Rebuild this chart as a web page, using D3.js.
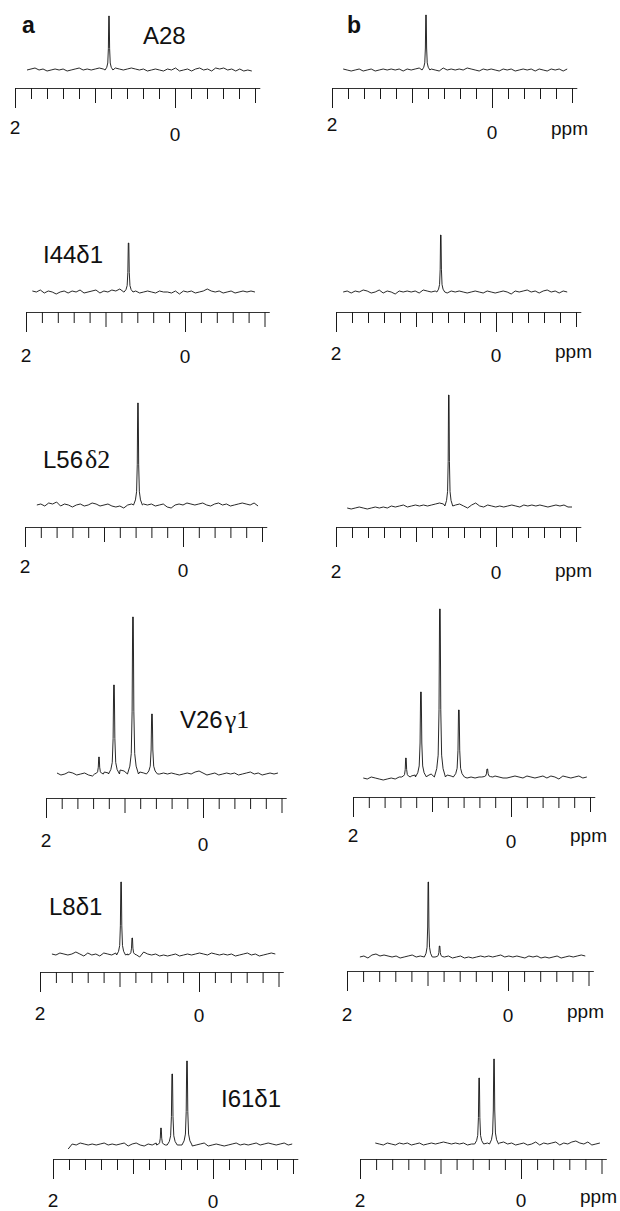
<!DOCTYPE html>
<html>
<head>
<meta charset="utf-8">
<script src="https://cdn.jsdelivr.net/npm/d3@7"></script>
<style>
  body { margin: 0; background: #fff; }
  text { font-family: "Liberation Sans", Arial, sans-serif; fill: #111; }
</style>
</head>
<body>
<script>
// ---- data ----
const columnLabels = ["a", "b"];
const residueNames = ["A28", "I44δ1", "L56δ2", "V26γ1", "L8δ1", "I61δ1"];
const tickLabels = [{ ppm: 2, text: "2" }, { ppm: 0, text: "0" }];
const unitLabel = "ppm";

// ppm range covered by each trace [start, end], order: a1,b1,a2,b2,...
const traceRanges = [
  [1.85, -0.96], [1.86, -0.94],
  [1.92, -0.88], [1.91, -0.89],
  [1.85, -0.95], [1.86, -0.95],
  [1.86, -0.955], [1.87, -0.96],
  [1.85, -0.96], [1.84, -0.96],
  [1.81, -0.99], [1.81, -0.98]
];

// peaks: [ppm, height, width factor]
const peaksA28a = [[0.825, 54, 0.7]];
const peaksA28b = [[0.825, 55, 0.7]];
const peaksI44a = [[0.71, 49, 0.8]];
const peaksI44b = [[0.69, 57, 0.7]];
const peaksL56a = [[0.57, 102, 0.8]];
const peaksL56b = [[0.59, 111, 0.7]];
const peaksV26a = [[1.325, 17, 0.8], [1.134, 89, 1], [0.892, 157, 1], [0.65, 60, 1]];
const peaksV26b = [[1.33, 19, 0.8], [1.14, 85, 1], [0.90, 168, 1], [0.66, 67, 1], [0.30, 8, 1]];
const peaksL8a = [[0.98, 73, 0.8], [0.84, 17, 0.8]];
const peaksL8b = [[0.99, 75, 0.7], [0.85, 11, 0.8]];
const peaksI61a = [[0.65, 17, 0.8], [0.51, 71, 0.9], [0.325, 84, 0.9]];
const peaksI61b = [[0.52, 66, 0.8], [0.335, 85, 0.8]];

// tabulated line shape of one peak: [ppm offset, fraction of height]
const lineShape = [[0.07, 0], [0.04, 0.05], [0.022, 0.13], [0.011, 0.4], [0.004, 1],
                   [-0.004, 1], [-0.011, 0.4], [-0.022, 0.13], [-0.04, 0.05], [-0.07, 0]];

// baseline noise, evenly spaced over the trace range
const noiseA28a = [0,1,2,0,1,-1,0,1,0,1,-1,0,1,2,0,1,0,1,2,1,0,1,2,1,0,1,2,1,0,1,-1,0,1,0,-1,1,0,2,-1,0,1,-1,1,2,0,1,-1,2,1,2,0,1,-1,1,-1,0,-1];
const noiseA28b = [1,0,-1,0,1,-1,0,1,-1,0,1,0,1,0,1,-1,1,0,1,2,1,0,1,0,-1,2,0,1,0,1,0,2,1,0,-1,1,0,1,0,-1,1,0,1,-1,0,1,0,1,-1,1,0,-1,1,0,1,-1,1];
const noiseI44a = [1,0,2,-1,1,0,-2,0,1,-1,1,0,2,-1,0,1,2,-1,1,0,2,1,3,0,1,0,1,-1,0,1,0,-1,1,0,0,-1,1,-2,1,0,1,-1,0,1,3,1,0,1,-1,0,1,-1,0,1,0,1,0];
const noiseI44b = [0,1,-1,1,0,2,1,-1,0,2,-1,1,0,-2,1,0,1,0,1,-1,2,1,0,1,0,1,-1,1,0,1,0,-1,0,1,0,-1,1,0,-1,0,1,0,-2,1,0,1,2,0,1,-1,1,2,0,1,-1,1,0];
const noiseL56a = [0,1,-1,2,1,3,-1,1,0,-2,0,1,-1,0,2,1,-1,0,1,-1,-2,-1,-3,0,1,2,0,1,0,1,-1,0,1,-2,-3,0,1,0,2,1,0,1,2,0,-1,1,2,0,1,-1,0,1,2,1,0,2,-1];
const noiseL56b = [-2,-3,-2,-1,-2,-3,-2,-1,-2,-1,-2,0,-1,0,1,-1,0,1,0,1,0,1,2,3,2,1,0,1,2,0,-2,1,3,0,-1,1,0,-1,0,-1,0,1,0,-1,1,0,1,0,1,0,-1,0,1,0,1,-1,-1];
const noiseV26a = [1,-1,0,2,1,-1,0,1,-1,-2,0,1,2,1,0,1,4,3,1,0,1,2,1,0,1,-1,0,1,0,1,0,-1,0,1,0,2,3,1,-1,0,1,-1,0,1,0,1,-1,0,1,2,0,1,-1,0,1,0,1];
const noiseV26b = [-1,-2,0,-1,-2,-3,-2,-1,-2,0,-1,0,1,2,1,0,1,3,2,1,0,2,1,0,1,0,-1,0,-1,0,1,0,-1,1,0,-1,-1,0,1,0,-1,1,0,-1,0,1,-1,1,0,-2,1,0,-1,0,1,-1,0];
const noiseL8a = [1,0,2,1,0,1,3,1,-1,2,0,1,-1,2,1,0,2,1,0,1,2,0,-2,3,1,0,1,-1,0,-1,0,1,-1,0,1,0,1,2,1,0,2,1,0,1,0,1,-1,0,1,2,0,1,-1,0,1,2,1];
const noiseL8b = [0,1,-1,2,3,1,2,1,0,1,-1,0,1,2,0,1,0,2,0,2,1,0,1,-1,0,1,-1,0,-1,0,1,0,1,0,1,2,0,1,0,1,0,-1,1,0,1,-1,0,-1,0,1,-1,0,1,0,1,2,1];
const noiseI61a = [-4,1,0,2,1,0,1,0,1,2,0,1,0,1,2,-1,1,2,0,-1,1,0,2,3,1,0,2,1,0,1,0,-1,0,1,2,-1,0,1,0,-1,0,1,2,0,1,0,1,2,0,1,2,1,0,1,2,0,1];
const noiseI61b = [1,0,-1,1,0,-1,1,0,1,-1,0,1,-1,0,1,0,1,2,1,0,1,0,1,-1,0,1,0,2,1,0,-1,1,2,0,1,-1,0,1,-1,0,2,-1,1,0,1,2,-1,1,0,2,3,1,0,2,-1,0,1];

const peakLists = [peaksA28a, peaksA28b, peaksI44a, peaksI44b, peaksL56a, peaksL56b,
                   peaksV26a, peaksV26b, peaksL8a, peaksL8b, peaksI61a, peaksI61b];
const noiseLists = [noiseA28a, noiseA28b, noiseI44a, noiseI44b, noiseL56a, noiseL56b,
                    noiseV26a, noiseV26b, noiseL8a, noiseL8b, noiseI61a, noiseI61b];

// ---- layout (pixels) ----
// x0: position of 2 ppm, k: px per ppm, axisY, baseY: trace baseline, d2/d0/dp: label baselines below axis
const panelLayout = [
  { x0: 15,  k: 80,   axisY: 88,   baseY: 70,   d2: 46, d0: 53 },
  { x0: 332, k: 80,   axisY: 88,   baseY: 70,   d2: 43, d0: 51, dp: 47 },
  { x0: 26,  k: 79.5, axisY: 312,  baseY: 292,  d2: 50, d0: 51 },
  { x0: 336, k: 80,   axisY: 312,  baseY: 292,  d2: 48, d0: 50, dp: 46 },
  { x0: 25,  k: 79,   axisY: 527,  baseY: 505,  d2: 46, d0: 50 },
  { x0: 336, k: 80,   axisY: 527,  baseY: 506,  d2: 51, d0: 52, dp: 50 },
  { x0: 46,  k: 78.5, axisY: 798,  baseY: 774,  d2: 49, d0: 53 },
  { x0: 353, k: 79,   axisY: 797,  baseY: 777,  d2: 45, d0: 51, dp: 45 },
  { x0: 40,  k: 79.5, axisY: 972,  baseY: 955,  d2: 48, d0: 50 },
  { x0: 347, k: 80.5, axisY: 971,  baseY: 957,  d2: 50, d0: 51, dp: 47 },
  { x0: 53,  k: 80,   axisY: 1159, baseY: 1145, d2: 48, d0: 49 },
  { x0: 360, k: 80.5, axisY: 1159, baseY: 1144, d2: 48, d0: 48, dp: 44 }
];
const residueLayout = [
  { x: 143, y: 44,   serif: false },
  { x: 43,  y: 263,  serif: false },
  { x: 43,  y: 468,  serif: true },
  { x: 180, y: 728,  serif: true },
  { x: 49,  y: 915,  serif: false },
  { x: 221, y: 1107, serif: false }
];
const columnLabelX = [22, 347];

const tickPpm = d3.range(16).map(i => 2 - i * 0.2);

const svg = d3.select("body").append("svg")
  .attr("width", 620)
  .attr("height", 1211);

function spectrum(range, noise, peaks) {
  const [s, e] = range;
  const step = (s - e) / (noise.length - 1);
  const pts = [];
  noise.forEach((v, i) => {
    const ppm = s - i * step;
    if (!peaks.some(([c, h, w]) => Math.abs(ppm - c) < 0.07 * w)) pts.push([ppm, v]);
  });
  peaks.forEach(([c, h, w]) => lineShape.forEach(([dx, f]) => pts.push([c + dx * w, h * f])));
  return pts.sort((a, b) => b[0] - a[0]);
}

panelLayout.forEach((p, i) => {
  const x = d3.scaleLinear().domain([2, -1.06]).range([p.x0, p.x0 + 3.06 * p.k]);
  const y = d3.scaleLinear().domain([0, 100]).range([p.baseY, p.baseY - 100]);
  const g = svg.append("g");

  // axis with three tick lengths
  const ax = g.append("g")
    .attr("transform", `translate(0,${p.axisY})`)
    .call(d3.axisBottom(x).tickValues(tickPpm).tickSizeOuter(0).tickFormat(""));
  ax.select(".domain").attr("stroke", "#333");
  ax.selectAll(".tick line")
    .attr("stroke", "#1a1a1a")
    .attr("y2", d => {
      const r = Math.round(d * 10) / 10;
      if (r === 2 || r === 0) return 20;
      if (Math.abs(r) === 1) return 15;
      return 11;
    });

  tickLabels.forEach(t => {
    g.append("text")
      .attr("x", x(t.ppm))
      .attr("y", p.axisY + (t.ppm === 2 ? p.d2 : p.d0))
      .attr("text-anchor", "middle")
      .style("font-size", "19px")
      .text(t.text);
  });
  if (i % 2 === 1) {
    g.append("text")
      .attr("x", x(0) + 59)
      .attr("y", p.axisY + p.dp)
      .style("font-size", "19px")
      .text(unitLabel);
  }

  const line = d3.line().x(d => x(d[0])).y(d => y(d[1]));
  g.append("path")
    .datum(spectrum(traceRanges[i], noiseLists[i], peakLists[i]))
    .attr("fill", "none")
    .attr("stroke", "#111")
    .attr("stroke-width", 0.9)
    .attr("stroke-linejoin", "round")
    .attr("d", line);
});

// residue labels (column a)
residueNames.forEach((name, i) => {
  const r = residueLayout[i];
  const t = svg.append("text")
    .attr("x", r.x)
    .attr("y", r.y)
    .style("font-size", "24px");
  if (r.serif) {
    t.append("tspan").text(name.slice(0, -2));
    t.append("tspan")
      .attr("dx", 2)
      .style("font-family", "'Liberation Serif', 'Times New Roman', serif")
      .style("font-size", "26px")
      .text(name.slice(-2));
  } else {
    t.text(name);
  }
});

columnLabels.forEach((c, i) => {
  svg.append("text")
    .attr("x", columnLabelX[i])
    .attr("y", 33)
    .style("font-size", "23px")
    .style("font-weight", "bold")
    .text(c);
});
</script>
</body>
</html>
